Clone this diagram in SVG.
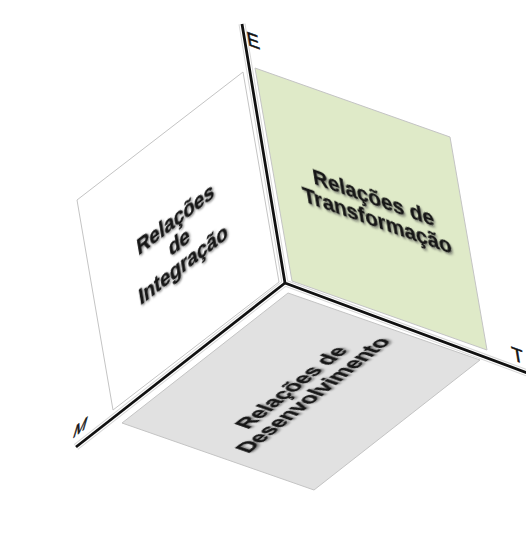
<svg xmlns="http://www.w3.org/2000/svg" width="526" height="535" viewBox="0 0 526 535">
  <defs>
    <style>
      .face { stroke: #c4c4c4; stroke-width: 1; stroke-linejoin: round; }
      .face-white { fill: #ffffff; }
      .face-green { fill: #dfeac8; }
      .face-gray { fill: #e1e1e1; }
      .face-text { font-family: "Liberation Sans", Arial, sans-serif; font-weight: bold; font-size: 22px; fill: #141414; stroke: #141414; stroke-width: 0.4; text-anchor: middle; filter: url(#txtShadow); }
      .axis-halo { stroke: #d6d6d6; stroke-width: 7; stroke-linecap: butt; fill: none; }
      .axis-gap { stroke: #ffffff; stroke-width: 5; stroke-linecap: butt; fill: none; }
      .axis-line { stroke: #111111; stroke-width: 2.8; stroke-linecap: butt; fill: none; }
      .axis-label { font-family: "Liberation Sans", Arial, sans-serif; font-size: 20px; fill: #111111; stroke: #111111; stroke-width: 0.6; }
    </style>
    <filter id="txtShadow" x="-20%" y="-40%" width="140%" height="180%">
      <feDropShadow dx="1.4" dy="1.6" stdDeviation="1.1" flood-color="#4a4a4a" flood-opacity="0.65"/>
    </filter>
  </defs>

  <!-- left face: integration -->
  <g id="face-integracao">
    <polygon class="face face-white" points="243,72 77,200 113,410 279,282"/>
    <g transform="matrix(0.792,-0.611,0.169,0.986,179,241)">
      <text class="face-text" x="0" y="-15">Relações</text>
      <text class="face-text" x="0" y="8">de</text>
      <text class="face-text" x="0" y="31">Integração</text>
    </g>
  </g>

  <!-- right face: transformation -->
  <g id="face-transformacao">
    <polygon class="face face-green" points="255,68 450,137 487,350 292,281"/>
    <g transform="matrix(0.943,0.334,0.163,0.987,375,208)">
      <text class="face-text" x="0" y="-3">Relações de</text>
      <text class="face-text" x="0" y="20">Transformação</text>
    </g>
  </g>

  <!-- bottom face: development -->
  <g id="face-desenvolvimento">
    <polygon class="face face-gray" points="288,293 480,360 314,490 122,423"/>
    <g transform="matrix(0.787,-0.617,0.944,0.330,301,391)">
      <text class="face-text" x="0" y="-3">Relações de</text>
      <text class="face-text" x="0" y="20">Desenvolvimento</text>
    </g>
  </g>

  <!-- axes meeting at the corner of the cube -->
  <g id="axes">
    <polyline class="axis-halo" points="242,24 285,283 530,374"/>
    <line class="axis-halo" x1="285" y1="283" x2="76" y2="447"/>
    <polyline class="axis-gap" points="242,24 285,283 530,374"/>
    <line class="axis-gap" x1="285" y1="283" x2="76" y2="447"/>
    <polyline class="axis-line" points="242,24 285,283 530,374" stroke-linejoin="miter"/>
    <line class="axis-line" x1="285" y1="283" x2="76" y2="447"/>
  </g>

  <!-- axis labels -->
  <g id="axis-labels">
    <text class="axis-label" transform="matrix(0.94,0.34,0.164,0.986,248,45)">E</text>
    <text class="axis-label" transform="matrix(0.94,0.34,0.16,0.99,513,360)" font-size="18">T</text>
    <text class="axis-label" transform="matrix(0.787,-0.617,-0.28,0.96,72,439)" font-size="17">M</text>
  </g>
</svg>
